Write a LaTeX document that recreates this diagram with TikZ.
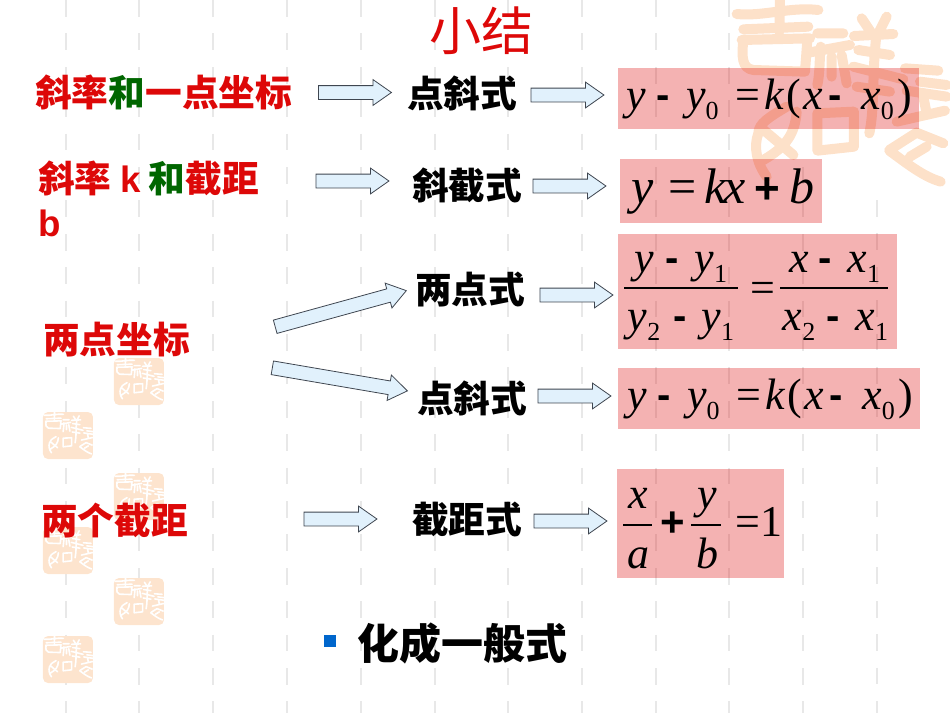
\documentclass[tikz,border=0pt]{standalone}
\usepackage{fontspec}
\setmainfont{Liberation Serif}
\newfontfamily\zh{Noto Sans CJK SC}
\newfontfamily\la{Liberation Sans}
\usetikzlibrary{shapes.arrows}
\definecolor{titlered}{HTML}{DD0808}
\definecolor{labelgreen}{HTML}{006600}
\definecolor{boxred}{HTML}{DC0000}
\definecolor{arrowfill}{HTML}{E1F1FC}
\definecolor{arrowline}{HTML}{3F4650}
\definecolor{gridgrey}{HTML}{E8E8E8}
\definecolor{sealorange}{HTML}{FDE1C9}
\definecolor{bulletblue}{HTML}{0066CC}
\newcommand{\zhsize}[1]{\fontsize{#1}{#1}\selectfont}
\newcommand{\iv}[1]{{\itshape #1}}
\newcommand{\mn}{\raisebox{.02em}{\la\bfseries\fontsize{40}{40}\selectfont -}}
\newcommand{\low}[1]{\raisebox{-.23em}{\fontsize{26}{26}\selectfont #1}}
\newcommand{\gn}[1]{{\color{labelgreen}#1}}
\newcommand{\sealstrokes}[2]{%
\draw[#1,line width=#2,line cap=round,line join=round]
  (150,-5) -- (148,95) (20,42) .. controls (100,50) and (180,20) .. (265,30) (40,88) -- (235,80)
  (35,120) -- (240,115) (40,120) .. controls (35,170) and (35,205) .. (70,210) -- (225,215) -- (232,120)
  (262,100) -- (340,100) (235,158) -- (360,135) (272,140) .. controls (268,180) and (270,220) .. (262,255)
  (335,165) -- (350,250) (305,170) -- (305,230)
  (372,108) -- (490,102) (395,55) -- (425,100) (470,50) -- (445,100) (440,100) .. controls (425,220) and (435,320) .. (418,400)
  (370,200) -- (520,238) (385,150) -- (480,165) (380,260) -- (480,275)
  (170,320) .. controls (120,350) and (85,370) .. (85,400) .. controls (70,440) and (80,490) .. (110,530)
  (95,385) -- (190,465) (200,335) .. controls (195,400) and (170,440) .. (100,480)
  (262,340) -- (372,335) -- (372,440) -- (262,452) -- cycle
  (525,205) -- (625,212) (570,245) -- (650,255) (530,272) -- (650,290) (580,290) -- (590,340)
  (500,365) -- (645,332) (478,450) .. controls (510,430) and (540,410) .. (560,398) -- (640,430)
  (478,452) .. controls (530,490) and (580,530) .. (632,545) (540,470) -- (590,440);}
\newcommand{\smallseal}[3]{%
\begin{scope}[shift={(#1,#2)},x=.0769pt,y=-.0769pt]
\node[seal] (#3) at (325,306) {};
\sealstrokes{white}{1.6pt}
\end{scope}}
\tikzset{
  gridline/.style={gridgrey,line width=2.5pt,dash pattern=on 16.7pt off 16.7pt},
  seal/.style={fill=sealorange!90!white,rounded corners=5pt,minimum width=50pt,minimum height=47pt,inner sep=0pt},
  formulabox/.style={fill=boxred,fill opacity=.3},
  blockarrow/.style={single arrow,draw=arrowline,fill=arrowfill,line width=.8pt,inner xsep=0pt,inner ysep=6.5pt,
    minimum width=25pt,single arrow head extend=6pt,single arrow tip angle=70},
  headlabel/.style={anchor=west,inner sep=0pt,font=\zh\bfseries\zhsize{36.7},text height=31pt,text depth=5pt},
  redlabel/.style={headlabel,text=titlered},
  blacklabel/.style={headlabel,text=black},
  fml/.style={anchor=base west,inner sep=0pt,font=\zhsize{44}},
  fmlc/.style={anchor=base,inner sep=0pt,font=\zhsize{44}},
  fracbar/.style={line width=1.5pt,black}
}
\begin{document}
\begin{tikzpicture}[x=1pt,y=-1pt]
\useasboundingbox (0,0) rectangle (950,713);
% background stripes
\foreach \px in {66,139,213,287,361,435,508,582,656,729}
  \draw[gridline] (\px,0) -- (\px,713);
\draw[gridline] (803,167) -- (803,713);
\draw[gridline] (877,200) -- (877,713);
% big seal
\begin{scope}[shift={(730,0)},x=.3333pt,y=-.3333pt]
\sealstrokes{sealorange}{10pt}
\end{scope}
% small seals
\smallseal{114}{358}{sealA}
\smallseal{43}{412}{sealB}
\smallseal{114}{473}{sealC}
\smallseal{43}{527}{sealD}
\smallseal{114}{578}{sealE}
\smallseal{43}{636}{sealF}
% formula backgrounds
\fill[formulabox] (618,68) rectangle (919,129);
\fill[formulabox] (620,159) rectangle (822,223);
\fill[formulabox] (618,234) rectangle (897,349);
\fill[formulabox] (618,368) rectangle (920,429);
\fill[formulabox] (617,469) rectangle (784,578);
% title
\node[anchor=center,inner sep=0pt,text=titlered,font=\zh\zhsize{52}] (title) at (481,31) {小结};
% left labels
\node[redlabel] (slopepoint) at (35,93) {斜率\gn{和}一点坐标};
\node[redlabel] (slopecept) at (38,179) {斜率 {\la k} \gn{和}截距};
\node[redlabel] (slopeceptb) at (38,223) {{\la b}};
\node[redlabel] (twopoints) at (43,340) {两点坐标};
\node[redlabel] (twocepts) at (41,521) {两个截距};
% middle labels
\node[blacklabel] (formA) at (407,94) {点斜式};
\node[blacklabel] (formB) at (412,186) {斜截式};
\node[blacklabel] (formC) at (415,290) {两点式};
\node[blacklabel] (formD) at (417,399) {点斜式};
\node[blacklabel] (formE) at (412,520) {截距式};
% arrows
\node[blockarrow,minimum height=73pt] (arrA) at (350,92.5) {};
\node[blockarrow,minimum height=73pt] (arrB) at (347.5,181) {};
\node[blockarrow,minimum height=136pt,rotate=15.4] (arrC) at (336,310) {};
\node[blockarrow,minimum height=137pt,rotate=-9.7] (arrD) at (335,378.5) {};
\node[blockarrow,minimum height=73pt] (arrE) at (335.5,519) {};
\node[blockarrow,minimum height=73pt] (arrF) at (562.5,95) {};
\node[blockarrow,minimum height=73pt] (arrG) at (564.5,186) {};
\node[blockarrow,minimum height=73pt] (arrH) at (571.5,295) {};
\node[blockarrow,minimum height=73pt] (arrI) at (569.5,396) {};
\node[blockarrow,minimum height=73pt] (arrJ) at (565.5,521) {};
% formulas
\node[fml] (fmlA) at (626,109) {\iv{y}\kern11pt\mn\kern16pt\iv{y}\low{0}\kern17pt=\kern4pt\iv{k}\kern3pt(\kern2pt\iv{x}\kern5pt\mn\kern20pt\iv{x}\low{0}\kern4pt)};
\node[fml,font=\zhsize{50}] (fmlB) at (631,203) {\iv{y}\kern15pt=\kern8pt\iv{k}\kern-3pt\iv{x}\kern9pt{\la\bfseries\fontsize{44}{44}\selectfont +}\kern9pt\iv{b}};
\node[fmlc] (numA) at (681,272) {\iv{y}\kern11pt\mn\kern16pt\iv{y}\low{1}};
\node[fmlc] (denA) at (681,330) {\iv{y}\low{2}\kern13pt\mn\kern15pt\iv{y}\low{1}};
\draw[fracbar] (624,288) -- (738,288);
\node[fml] (eqA) at (750,302) {=};
\node[fmlc] (numB) at (835,272) {\iv{x}\kern9pt\mn\kern16pt\iv{x}\low{1}};
\node[fmlc] (denB) at (835.5,330) {\iv{x}\low{2}\kern11pt\mn\kern16pt\iv{x}\low{1}};
\draw[fracbar] (780,288) -- (888,288);
\node[fml] (fmlD) at (627,409) {\iv{y}\kern11pt\mn\kern16pt\iv{y}\low{0}\kern17pt=\kern4pt\iv{k}\kern3pt(\kern2pt\iv{x}\kern5pt\mn\kern20pt\iv{x}\low{0}\kern4pt)};
\node[fmlc] (numC) at (638,508) {\iv{x}};
\node[fmlc] (denC) at (638,568) {\iv{a}};
\draw[fracbar] (623,525) -- (652,525);
\node[anchor=center,inner sep=0pt,font=\la\bfseries\zhsize{42}] (plusC) at (672.5,524) {+};
\node[fmlc] (numD) at (707,508) {\iv{y}};
\node[fmlc] (denD) at (707,568) {\iv{b}};
\draw[fracbar] (691,525) -- (721,525);
\node[fml] (eqC) at (735,536) {=\kern1pt 1};
% bottom line
\node[fill=bulletblue,minimum size=12pt,inner sep=0pt] (bullet) at (330,640.5) {};
\node[anchor=west,inner sep=0pt,font=\zh\bfseries\zhsize{42},text height=35pt,text depth=6pt] (general) at (357,645) {化成一般式};
\end{tikzpicture}
\end{document}
